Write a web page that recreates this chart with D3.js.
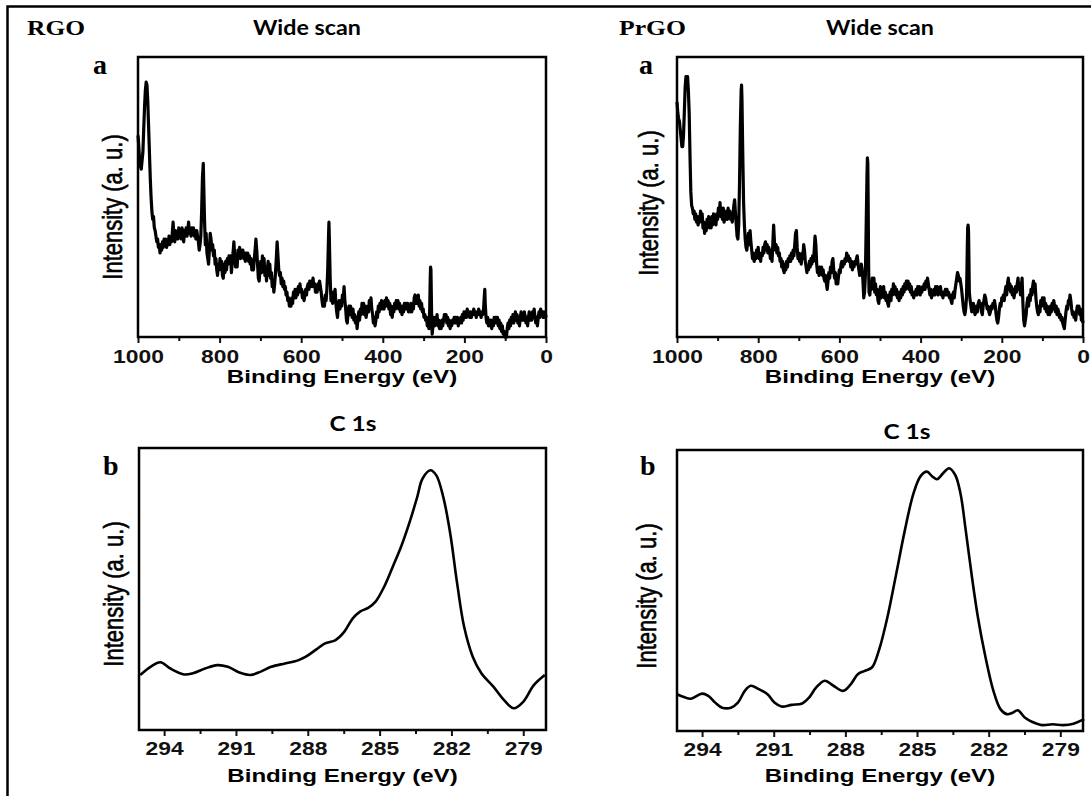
<!DOCTYPE html>
<html lang="en">
<head>
<meta charset="UTF-8">
<title>XPS spectra of RGO and PrGO</title>
<style>
    body { margin: 0; background: #fff; }
    svg { display: block; }
    .tick text { font-family: "Liberation Sans", Arial, sans-serif; font-weight: bold; font-size: 18px; fill: #111; }
    .tick line { stroke: #111; stroke-width: 2px; }
</style>
</head>
<body>
<div id="chart"></div>
<script src="https://d3js.org/d3.v7.min.js"></script>
<script>
// ---- data: [binding energy (eV), intensity (0-100, a.u.)] ----
const rgoWide = [[1000,72],[998,68],[996,63],[994,61],[992,60],[990,63],[988,66],[986,74],[984,82],[982,88],[980,91],[978,90],[976,84],[974,75],[972,66],[970,57],[968,50],[966,45],[964,42],[962,43],[960,39],[958,38],[956,36],[954,34],[952,35],[950,32],[948,33],[946,30],[944,33],[942,31],[940,34],[938,32],[936,35],[934,33],[932,35],[930,32],[928,34],[926,33],[924,36],[922,33],[920,35],[918,34],[916,37],[914,41],[912,36],[910,34],[908,38],[906,35],[904,37],[902,35],[900,39],[898,36],[896,38],[894,35],[892,39],[890,36],[888,34],[886,38],[884,36],[882,39],[880,36],[878,38],[876,41],[874,37],[872,39],[870,36],[868,39],[866,37],[864,39],[862,36],[860,38],[858,35],[856,38],[854,36],[852,34],[850,31],[848,33],[846,36],[844,45],[842,57],[840,62],[839,55],[837,42],[835,33],[833,37],[831,30],[829,28],[827,26],[825,31],[823,37],[821,35],[819,31],[817,33],[815,29],[813,31],[811,26],[809,28],[807,24],[805,22],[803,26],[801,24],[799,28],[797,25],[795,27],[793,22],[791,21],[789,26],[787,23],[785,27],[783,24],[781,28],[779,26],[777,29],[775,27],[773,29],[771,23],[769,27],[767,30],[765,34],[763,29],[761,25],[759,28],[757,25],[755,31],[753,29],[751,32],[749,28],[747,31],[745,29],[743,31],[741,28],[739,30],[737,27],[735,30],[733,28],[731,30],[729,27],[727,29],[725,26],[723,28],[721,24],[719,27],[717,24],[715,28],[713,31],[711,35],[709,31],[707,26],[705,21],[703,20],[701,24],[699,27],[697,23],[695,29],[693,26],[691,28],[689,22],[687,25],[685,20],[683,24],[681,27],[679,22],[677,26],[675,21],[673,23],[671,18],[669,20],[667,16],[665,19],[663,23],[661,28],[659,34],[657,29],[655,24],[653,22],[651,23],[649,19],[647,21],[645,18],[643,20],[641,17],[639,18],[637,15],[635,16],[633,13],[631,14],[629,11],[627,13],[625,11],[623,14],[621,12],[619,16],[617,14],[615,17],[613,14],[611,17],[609,15],[607,18],[605,16],[603,19],[601,16],[599,17],[597,14],[595,16],[593,13],[591,15],[589,17],[587,15],[585,18],[583,19],[581,17],[579,20],[577,18],[575,20],[573,18],[571,21],[569,18],[567,19],[565,16],[563,18],[561,16],[559,19],[557,17],[555,20],[553,18],[551,16],[549,13],[547,11],[545,13],[543,11],[541,15],[539,13],[537,17],[535,24],[533,36],[532,41],[531,35],[529,21],[527,13],[525,15],[523,12],[521,16],[519,13],[517,17],[515,12],[513,9],[511,7],[509,11],[507,13],[505,10],[503,13],[501,11],[499,15],[497,13],[495,18],[493,13],[491,10],[489,6],[487,5],[485,9],[483,11],[481,8],[479,11],[477,9],[475,7],[473,10],[471,6],[469,8],[467,5],[465,7],[463,3],[461,6],[459,9],[457,6],[455,10],[453,8],[451,12],[449,10],[447,12],[445,8],[443,11],[441,7],[439,9],[437,11],[435,9],[433,13],[431,11],[429,14],[427,10],[425,8],[423,5],[421,7],[419,4],[417,6],[415,9],[413,7],[411,11],[409,9],[407,12],[405,10],[403,13],[401,10],[399,12],[397,10],[395,13],[393,11],[391,14],[389,11],[387,13],[385,10],[383,12],[381,8],[379,11],[377,7],[375,10],[373,9],[371,12],[369,10],[367,13],[365,11],[363,13],[361,10],[359,12],[357,9],[355,11],[353,8],[351,11],[349,9],[347,12],[345,10],[343,12],[341,10],[339,12],[337,9],[335,11],[333,9],[331,12],[329,9],[327,11],[325,10],[323,14],[321,15],[319,12],[317,14],[315,12],[313,15],[311,11],[309,13],[307,10],[305,12],[303,9],[301,10],[299,7],[297,8],[295,6],[293,7],[291,4],[289,5],[287,3],[285,10],[284,19],[283,25],[282,24],[281,14],[280,5],[279,1],[277,4],[275,7],[273,4],[271,7],[269,5],[267,8],[265,4],[263,6],[261,3],[259,5],[257,3],[255,6],[253,4],[251,6],[249,8],[247,6],[245,8],[243,5],[241,7],[239,4],[237,6],[235,3],[233,5],[231,4],[229,6],[227,5],[225,7],[223,5],[221,7],[219,5],[217,7],[215,4],[213,6],[211,5],[209,7],[207,5],[205,8],[203,6],[201,9],[199,7],[197,9],[195,7],[193,10],[191,8],[189,9],[187,7],[185,9],[183,7],[181,9],[179,8],[177,10],[175,8],[173,9],[171,7],[169,9],[167,8],[165,10],[163,8],[161,9],[159,7],[157,9],[155,8],[153,10],[151,15],[150,17],[149,12],[147,7],[145,5],[143,7],[141,4],[139,6],[137,4],[135,6],[133,3],[131,5],[129,4],[127,7],[125,5],[123,7],[121,5],[119,7],[117,4],[115,6],[113,3],[111,5],[109,2],[107,4],[105,1],[103,2],[101,0],[99,1],[97,0],[95,3],[93,5],[91,3],[89,6],[87,4],[85,7],[83,5],[81,8],[79,5],[77,7],[75,9],[73,6],[71,8],[69,5],[67,7],[65,4],[63,7],[61,9],[59,6],[57,8],[55,6],[53,9],[51,7],[49,5],[47,7],[45,4],[43,7],[41,9],[39,6],[37,8],[35,6],[33,9],[31,7],[29,10],[27,7],[25,5],[23,7],[21,4],[19,7],[17,9],[15,7],[13,10],[11,8],[9,9],[7,7],[5,9],[3,7],[1,8],[0,7]];

const prgoWide = [[1000,84],[998,80],[996,78],[994,77],[992,74],[990,71],[988,68],[986,68],[984,72],[982,80],[980,89],[978,93],[976,92],[974,93],[972,88],[970,80],[968,65],[966,52],[964,47],[962,46],[960,44],[958,45],[956,42],[954,44],[952,41],[950,43],[948,40],[946,43],[944,41],[942,45],[940,42],[938,44],[936,39],[934,41],[932,37],[930,40],[928,38],[926,42],[924,40],[922,43],[920,39],[918,42],[916,39],[914,43],[912,40],[910,44],[908,41],[906,43],[904,40],[902,44],[900,42],[898,46],[896,44],[894,48],[892,43],[890,45],[888,42],[886,46],[884,41],[882,44],[880,42],[878,45],[876,42],[874,46],[872,43],[870,45],[868,42],[866,44],[864,41],[862,44],[860,47],[858,49],[856,44],[854,40],[852,36],[850,35],[848,40],[846,55],[844,75],[842,88],[841,90],[840,85],[838,65],[836,48],[834,40],[832,35],[830,32],[828,31],[826,34],[824,37],[822,33],[820,38],[818,34],[816,31],[814,28],[812,30],[810,27],[808,29],[806,28],[804,31],[802,29],[800,32],[798,28],[796,30],[794,27],[792,30],[790,29],[788,32],[786,30],[784,33],[782,34],[780,31],[778,33],[776,30],[774,32],[772,31],[770,28],[768,30],[766,27],[764,33],[762,40],[760,34],[758,31],[756,33],[754,30],[752,32],[750,29],[748,30],[746,27],[744,28],[742,25],[740,27],[738,24],[736,23],[734,26],[732,24],[730,27],[728,25],[726,28],[724,27],[722,29],[720,27],[718,30],[716,28],[714,31],[712,29],[710,33],[708,37],[706,38],[704,32],[702,28],[700,30],[698,27],[696,29],[694,26],[692,30],[690,28],[688,33],[686,31],[684,27],[682,25],[680,23],[678,25],[676,24],[674,27],[672,25],[670,28],[668,26],[666,29],[664,27],[662,31],[660,36],[658,33],[656,26],[654,23],[652,24],[650,22],[648,25],[646,23],[644,25],[642,22],[640,24],[638,21],[636,20],[634,22],[632,19],[630,17],[628,20],[626,23],[624,21],[622,25],[620,23],[618,27],[616,28],[614,24],[612,21],[610,23],[608,19],[606,21],[604,19],[602,22],[600,24],[598,23],[596,26],[594,27],[592,25],[590,27],[588,26],[586,28],[584,27],[582,30],[580,28],[578,29],[576,27],[574,28],[572,25],[570,27],[568,24],[566,26],[564,25],[562,27],[560,26],[558,28],[556,29],[554,26],[552,24],[550,22],[548,23],[546,26],[544,24],[542,20],[540,14],[538,16],[536,22],[534,40],[532,58],[531,64],[530,62],[529,45],[528,25],[527,16],[525,15],[523,19],[521,17],[519,21],[517,18],[515,21],[513,16],[511,19],[509,15],[507,17],[505,13],[503,12],[501,15],[499,18],[497,14],[495,17],[493,15],[491,18],[489,14],[487,16],[485,13],[483,15],[481,12],[479,11],[477,14],[475,16],[473,13],[471,17],[469,15],[467,19],[465,16],[463,18],[461,15],[459,17],[457,14],[455,15],[453,13],[451,16],[449,14],[447,17],[445,15],[443,18],[441,16],[439,19],[437,17],[435,20],[433,18],[431,20],[429,17],[427,19],[425,16],[423,18],[421,15],[419,16],[417,14],[415,16],[413,15],[411,17],[409,15],[407,18],[405,16],[403,18],[401,15],[399,17],[397,16],[395,18],[393,17],[391,19],[389,17],[387,20],[385,18],[383,21],[381,19],[379,17],[377,15],[375,17],[373,14],[371,16],[369,15],[367,17],[365,15],[363,18],[361,16],[359,18],[357,15],[355,17],[353,16],[351,18],[349,15],[347,16],[345,14],[343,16],[341,15],[339,17],[337,15],[335,17],[333,15],[331,16],[329,14],[327,15],[325,13],[323,12],[321,15],[319,16],[317,14],[315,17],[313,19],[311,21],[309,23],[307,22],[305,20],[303,21],[301,19],[299,17],[297,14],[295,11],[293,9],[291,8],[289,10],[287,14],[286,22],[285,32],[284,39],[283,40],[282,38],[281,28],[280,16],[278,13],[276,11],[274,9],[272,10],[270,12],[268,10],[266,8],[264,9],[262,11],[260,9],[258,12],[256,13],[254,11],[252,12],[250,9],[248,8],[246,11],[244,13],[242,15],[240,14],[238,12],[236,10],[234,11],[232,9],[230,8],[228,9],[226,11],[224,10],[222,12],[220,11],[218,13],[216,11],[214,8],[212,6],[210,5],[208,7],[206,10],[204,12],[202,11],[200,14],[198,13],[196,15],[194,13],[192,16],[190,18],[188,15],[186,19],[184,21],[182,17],[180,19],[178,16],[176,18],[174,15],[172,17],[170,14],[168,16],[166,18],[164,16],[162,19],[160,21],[158,17],[156,19],[154,15],[152,18],[150,21],[148,12],[146,6],[144,4],[142,6],[140,8],[138,12],[136,14],[134,11],[132,15],[130,13],[128,17],[126,15],[124,18],[122,20],[120,16],[118,19],[116,14],[114,11],[112,9],[110,8],[108,11],[106,9],[104,13],[102,11],[100,14],[98,12],[96,14],[94,10],[92,12],[90,9],[88,11],[86,8],[84,10],[82,8],[80,11],[78,9],[76,12],[74,10],[72,13],[70,11],[68,9],[66,11],[64,8],[62,10],[60,9],[58,7],[56,8],[54,6],[52,7],[50,5],[48,4],[46,3],[44,6],[42,9],[40,11],[38,10],[36,13],[34,12],[32,15],[30,13],[28,10],[26,8],[24,9],[22,7],[20,8],[18,6],[16,9],[14,11],[12,9],[10,11],[8,8],[6,10],[4,6],[2,7],[0,5]];

const rgoC1s = [[295.0,19.5],[294.46,23],[294.15,24],[293.74,21.8],[293.16,19.7],[292.8,20.1],[292.29,21.8],[291.78,23],[291.34,22.4],[290.83,20.3],[290.4,19.5],[289.96,20.7],[289.53,22.4],[288.95,23.6],[288.44,24.6],[288.08,26],[287.64,28.6],[287.28,30.7],[286.84,31.9],[286.48,34.8],[286.12,39.6],[285.83,41.9],[285.46,43.4],[285.17,45.5],[284.81,50.8],[284.45,57.9],[284.08,65.5],[283.72,74.4],[283.43,82.6],[283.21,89.1],[282.88,92.1],[282.63,90.3],[282.34,82.6],[282.05,69.7],[281.76,51.9],[281.47,36.6],[281.11,26],[280.75,20.1],[280.24,15.3],[279.8,10.6],[279.4,7.7],[279.0,10],[278.56,15.9],[278.1,19.5]];

const prgoC1s = [[295.05,13.1],[294.76,12.1],[294.47,11.5],[294.0,13.3],[293.74,12.5],[293.45,10.1],[293.16,8.3],[292.79,8.3],[292.5,10.1],[292.21,14.3],[291.96,16.1],[291.63,14.9],[291.26,13.1],[290.97,10.1],[290.68,8.7],[290.25,9.3],[289.81,9.8],[289.52,11.9],[289.22,15.5],[288.86,17.9],[288.5,16.1],[288.09,14.3],[287.77,16.7],[287.48,20.2],[287.19,21.4],[286.89,22.6],[286.6,28.6],[286.24,40.5],[285.87,56],[285.51,71.4],[285.15,84.5],[284.85,90.7],[284.59,92.3],[284.35,90.5],[284.16,89.6],[283.91,91.7],[283.66,93.5],[283.4,91.1],[283.18,84.5],[282.96,71.4],[282.7,54.8],[282.45,40.5],[282.16,27.4],[281.8,14.3],[281.5,7.7],[281.24,6],[281.0,6.5],[280.78,7.4],[280.49,4.8],[280.19,3.3],[279.76,2.1],[279.32,2.4],[278.88,2.1],[278.45,2.6],[278.0,4.2]];

// axis ticks and labels
const wideDomain = [1000, 0];
const wideMajor = [1000, 800, 600, 400, 200, 0];
const wideMinor = [900, 700, 500, 300, 100];
const c1sDomain = [295.05, 278.05];
const c1sMajor = [294, 291, 288, 285, 282, 279];
const c1sMinor = [292.5, 289.5, 286.5, 283.5, 280.5];
const xLabel = "Binding Energy (eV)";
const yLabel = "Intensity (a. u.)";

const panels = [
    { data: rgoWide,  domain: wideDomain, major: wideMajor, minor: wideMinor, curve: d3.curveLinear,
      box: [138, 546, 57, 337], title: "Wide scan", titleX: 307, titleY: 35, titleW: 108,
      letter: "a", letterX: 93, letterY: 74, sample: "RGO", sampleX: 27, sampleW: 58,
      yLabX: 112, yLabY: 207, xLabY: 383, tickPad: 7, lw: 3.2 },
    { data: prgoWide, domain: wideDomain, major: wideMajor, minor: wideMinor, curve: d3.curveLinear,
      box: [677, 1083, 57, 337], title: "Wide scan", titleX: 880, titleY: 35, titleW: 108,
      letter: "a", letterX: 639, letterY: 74, sample: "PrGO", sampleX: 619, sampleW: 67,
      yLabX: 648, yLabY: 203, xLabY: 383, tickPad: 7, lw: 3.2 },
    { data: rgoC1s,   domain: c1sDomain, major: c1sMajor, minor: c1sMinor, curve: d3.curveCatmullRom,
      box: [139, 546, 448, 730], title: "C 1s", titleX: 353, titleY: 431, titleW: 47,
      letter: "b", letterX: 103, letterY: 475,
      yLabX: 113, yLabY: 594, xLabY: 782, tickPad: 6, lw: 2.6 },
    { data: prgoC1s,  domain: c1sDomain, major: c1sMajor, minor: c1sMinor, curve: d3.curveCatmullRom,
      box: [677, 1083, 450, 731], title: "C 1s", titleX: 907, titleY: 439, titleW: 47,
      letter: "b", letterX: 640, letterY: 475,
      yLabX: 646, yLabY: 596, xLabY: 782, tickPad: 6, lw: 2.6 }
];

const width = 1091, height = 796;
const SX = 1.27; // the original figure is stretched horizontally

const svg = d3.select("#chart").append("svg")
    .attr("width", width)
    .attr("height", height);

svg.append("rect").attr("width", width).attr("height", height).attr("fill", "#fff");

// outer frame (top and left edges visible)
svg.append("path")
    .attr("d", "M7.5,796 V6.5 H1091")
    .attr("fill", "none")
    .attr("stroke", "#000")
    .attr("stroke-width", 2.5);

panels.forEach(p => {
    const [x0, x1, y0, y1] = p.box;
    const x = d3.scaleLinear().domain(p.domain).range([x0, x1]);
    const y = d3.scaleLinear().domain([0, 100]).range([y1, y0]);

    const g = svg.append("g");

    // minor ticks
    g.append("g")
        .attr("transform", `translate(0,${y1})`)
        .call(d3.axisBottom(x).tickValues(p.minor).tickSize(4).tickFormat(""))
        .call(a => a.select(".domain").remove());

    // major ticks + labels
    g.append("g")
        .attr("transform", `translate(0,${y1})`)
        .call(d3.axisBottom(x).tickValues(p.major).tickSize(6).tickPadding(p.tickPad).tickFormat(d3.format("d")))
        .call(a => a.select(".domain").remove())
        .call(a => a.selectAll("text").attr("transform", `scale(${SX},1)`));

    // spectrum
    g.append("path")
        .datum(p.data)
        .attr("fill", "none")
        .attr("stroke", "#000")
        .attr("stroke-width", p.lw)
        .attr("stroke-linejoin", "round")
        .attr("d", d3.line().x(d => x(d[0])).y(d => y(d[1])).curve(p.curve));

    // box
    g.append("rect")
        .attr("x", x0).attr("y", y0)
        .attr("width", x1 - x0).attr("height", y1 - y0)
        .attr("fill", "none")
        .attr("stroke", "#000")
        .attr("stroke-width", 2.5);

    // x label
    g.append("text")
        .attr("transform", `translate(${(x0 + x1) / 2},${p.xLabY}) scale(${SX},1)`)
        .attr("text-anchor", "middle")
        .style("font-family", "'Liberation Sans', Arial, sans-serif")
        .style("font-weight", "bold")
        .style("font-size", "19px")
        .text(xLabel);

    // y label (a little heavier than regular)
    g.append("text")
        .attr("transform", `translate(${p.yLabX},${p.yLabY}) scale(${SX},1) rotate(-90)`)
        .attr("text-anchor", "middle")
        .attr("dy", "0.35em")
        .attr("stroke", "#000")
        .attr("stroke-width", 0.5)
        .style("font-family", "'Liberation Sans', Arial, sans-serif")
        .style("font-size", "22px")
        .text(yLabel);

    // panel title
    g.append("text")
        .attr("x", p.titleX - p.titleW / 2)
        .attr("y", p.titleY)
        .attr("textLength", p.titleW)
        .attr("lengthAdjust", "spacingAndGlyphs")
        .style("font-family", "Lato, 'Open Sans', sans-serif")
        .style("font-weight", "bold")
        .style("font-size", "20px")
        .text(p.title);

    // panel letter
    g.append("text")
        .attr("x", p.letterX)
        .attr("y", p.letterY)
        .style("font-family", "'Liberation Serif', 'Times New Roman', serif")
        .style("font-weight", "bold")
        .style("font-size", "28px")
        .text(p.letter);

    // sample name
    if (p.sample) {
        g.append("text")
            .attr("x", p.sampleX)
            .attr("y", 35)
            .attr("textLength", p.sampleW)
            .attr("lengthAdjust", "spacingAndGlyphs")
            .style("font-family", "'Liberation Serif', 'Times New Roman', serif")
            .style("font-weight", "bold")
            .style("font-size", "21px")
            .text(p.sample);
    }
});
</script>
</body>
</html>
